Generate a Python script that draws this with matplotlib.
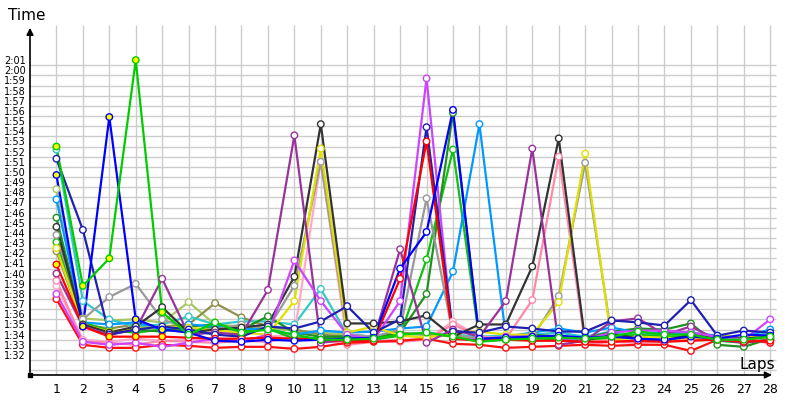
"""
lap times chart, one line per driver
"""

import matplotlib
matplotlib.use("Agg")
import matplotlib.pyplot as plt

laps = list(range(1, 29))

# lap times in seconds
red_a = [100.9, 94.8, 93.8, 93.8, 93.8, 93.7, 93.6, 93.6, 93.7, 93.6, 93.5, 93.4, 93.4, 99.5,
         113.0, 93.6, 93.4, 93.5, 93.4, 93.4, 93.3, 93.3, 93.4, 93.3, 93.4, 93.5, 93.3, 93.4]
red_b = [97.5, 93.0, 92.7, 92.7, 93.0, 92.9, 92.7, 92.8, 92.8, 92.6, 92.8, 93.2, 93.3, 93.4,
         93.6, 93.1, 93.0, 92.7, 92.8, 92.9, 93.0, 92.9, 93.0, 93.0, 92.4, 93.5, 93.6, 93.2]
blue = [109.7, 94.8, 115.4, 95.5, 94.5, 94.2, 93.4, 93.3, 93.5, 93.4, 93.5, 93.6, 93.7, 100.5,
        104.1, 116.1, 93.6, 93.7, 93.8, 93.9, 93.7, 93.8, 93.6, 93.5, 93.8, 93.6, 94.0, 93.9]
navy = [111.3, 104.3, 94.0, 94.5, 94.8, 94.5, 94.0, 93.8, 94.8, 94.6, 95.3, 96.8, 94.2, 95.5,
        114.4, 94.3, 94.2, 94.8, 94.6, 94.3, 94.3, 95.4, 95.2, 94.9, 97.4, 93.9, 94.4, 94.2]
green_a = [112.5, 98.8, 101.5, 121.0, 96.2, 94.0, 95.2, 94.2, 94.5, 94.0, 93.5, 93.5, 93.6, 94.0,
           94.2, 93.8, 93.3, 93.5, 93.6, 93.7, 93.6, 93.8, 94.3, 94.0, 94.0, 93.5, 93.5, 93.8]
dark_green = [105.5, 95.0, 94.3, 94.5, 94.3, 94.8, 95.0, 94.5, 95.8, 94.2, 93.8, 93.8, 93.7, 94.2,
              98.0, 115.8, 93.5, 93.8, 94.0, 93.8, 93.6, 94.3, 94.6, 94.5, 95.1, 93.0, 92.8, 93.6]
green_b = [103.1, 95.2, 94.4, 94.2, 94.5, 94.3, 94.8, 94.3, 94.6, 93.6, 93.7, 93.8, 93.5, 93.9,
           101.4, 112.2, 93.5, 93.6, 93.7, 93.5, 93.5, 93.7, 94.0, 93.8, 93.8, 93.4, 93.2, 93.5]
yellow = [102.5, 95.0, 94.3, 94.6, 94.8, 94.7, 94.4, 94.2, 94.0, 97.3, 112.3, 94.2, 94.8, 93.9,
          93.7, 94.2, 94.3, 94.0, 94.0, 97.2, 111.8, 93.4, 93.8, 93.7, 93.6, 93.8, 93.9, 93.6]
gray = [103.8, 95.5, 97.7, 99.0, 95.5, 94.6, 94.5, 95.0, 94.6, 98.8, 111.0, 94.0, 93.8, 94.5,
        107.4, 94.0, 93.6, 93.8, 93.7, 97.8, 110.9, 93.8, 93.7, 93.5, 93.8, 93.8, 93.6, 93.7]
dark_gray = [104.6, 95.0, 94.2, 94.8, 96.7, 94.2, 94.5, 94.7, 95.0, 99.7, 114.7, 95.1, 95.1, 95.3,
             95.9, 93.8, 95.0, 95.0, 100.7, 113.3, 93.4, 94.1, 93.6, 93.4, 94.0, 93.7, 93.6, 93.8]
purple = [100.0, 94.8, 94.0, 94.5, 99.5, 94.0, 94.2, 94.0, 98.4, 113.6, 93.2, 93.5, 93.5, 102.4,
          93.2, 94.5, 93.8, 97.3, 112.3, 93.0, 93.4, 95.3, 95.6, 94.0, 94.8, 93.5, 93.2, 93.5]
violet = [98.0, 93.3, 93.0, 93.2, 92.8, 93.2, 93.6, 93.3, 94.0, 101.3, 97.3, 94.0, 93.5, 97.3,
          119.2, 93.6, 93.5, 93.8, 93.8, 93.6, 93.5, 94.2, 94.4, 94.4, 94.2, 93.8, 93.5, 95.5]
pink = [99.3, 93.3, 93.2, 93.0, 93.4, 93.3, 93.2, 93.4, 93.3, 93.8, 93.5, 93.0, 93.3, 93.3,
        93.5, 95.0, 93.8, 93.6, 97.4, 111.5, 93.0, 93.3, 93.2, 93.3, 93.6, 93.5, 93.4, 93.2]
light_pink = [98.8, 93.5, 93.3, 93.6, 93.4, 93.5, 93.6, 93.5, 93.8, 94.0, 111.0, 93.2, 93.4, 93.5,
              93.5, 95.3, 93.8, 93.6, 93.5, 93.6, 93.4, 93.5, 93.2, 93.4, 93.6, 93.5, 93.6, 93.3]
cyan = [112.2, 97.3, 95.5, 94.8, 95.0, 95.8, 95.0, 95.3, 95.3, 95.0, 98.5, 94.0, 93.8, 94.0,
        94.2, 94.0, 93.8, 93.9, 94.0, 94.2, 93.8, 94.3, 93.8, 94.2, 94.0, 93.8, 93.7, 94.2]
sky_blue = [107.3, 95.2, 95.0, 95.2, 94.5, 95.0, 94.8, 94.6, 94.5, 94.0, 94.4, 94.2, 94.3, 94.6,
            94.8, 100.2, 114.7, 93.8, 94.2, 94.6, 94.2, 94.7, 94.2, 94.2, 94.2, 93.9, 93.8, 94.5]
olive = [102.2, 95.0, 94.6, 95.0, 94.8, 95.0, 97.1, 95.7, 94.8, 94.5, 94.0, 93.8, 93.7, 94.2,
         94.0, 93.9, 93.8, 93.7, 93.6, 93.8, 93.6, 93.9, 93.8, 93.6, 93.7, 93.8, 93.7, 93.6]
light_green = [108.3, 95.6, 95.4, 95.5, 95.2, 97.2, 95.0, 94.8, 94.6, 94.4, 94.2, 94.0, 93.8, 94.0,
               94.0, 93.8, 93.7, 93.6, 93.7, 93.6, 93.5, 93.7, 93.6, 93.5, 93.6, 93.7, 93.6, 93.7]

# (values, colour, yellow markers on first laps?)
series = [
    (light_green, "#a8c864", False),
    (olive, "#8f8f4f", False),
    (cyan, "#33c8c8", False),
    (light_pink, "#ffa8c8", False),
    (pink, "#ff88a8", False),
    (red_b, "#ff1010", False),
    (green_b, "#10c010", False),
    (dark_green, "#209020", False),
    (sky_blue, "#0099ff", False),
    (gray, "#999999", False),
    (yellow, "#e0e000", False),
    (dark_gray, "#333333", False),
    (purple, "#993399", False),
    (violet, "#cc44ff", False),
    (navy, "#2020b0", False),
    (red_a, "#ff0000", True),
    (blue, "#0000ff", True),
    (green_a, "#00cc00", True),
]

y_ticks = list(range(92, 122))
y_labels = [f"{t // 60}:{t % 60:02d}" for t in y_ticks]

fig = plt.figure(figsize=(8, 4), dpi=100)
ax = fig.add_axes([30 / 800, 25 / 400, 750 / 800, 350 / 400])
ax.set_xlim(0, 28.37)
ax.set_ylim(90.03, 124.45)

# grid
ax.hlines([v + 0.5 for v in range(90, 121)], 0, 28.22, color="#cccccc", lw=1, zorder=0)
ax.vlines(laps, 90.03, 124.45, color="#cccccc", lw=1, zorder=0)

for vals, col, yel in series:
    ax.plot(laps, vals, color=col, lw=1.6, zorder=2)
    faces = ["#ffff00" if (yel and i < 5) else "white" for i in range(len(vals))]
    ax.scatter(laps, vals, s=22, facecolors=faces, edgecolors=col, linewidths=1, zorder=3)

for s in ax.spines.values():
    s.set_visible(False)

# axes with arrows
ax.annotate("", xy=(0, 1.0), xytext=(0, 0), xycoords="axes fraction",
            arrowprops=dict(arrowstyle="-|>", color="black", lw=1.2, mutation_scale=10),
            annotation_clip=False)
ax.annotate("", xy=(0.993, 0), xytext=(0, 0), xycoords="axes fraction",
            arrowprops=dict(arrowstyle="-|>", color="black", lw=1.2, mutation_scale=10),
            annotation_clip=False)
ax.plot([0], [90.03], marker="s", ms=3, color="black", clip_on=False, zorder=5)

ax.set_yticks(y_ticks)
ax.set_yticklabels(y_labels, fontsize=7, ha="left")
ax.tick_params(axis="y", length=0, pad=18.7)
ax.set_xticks(laps)
ax.set_xticklabels([str(l) for l in laps], fontsize=9)
ax.tick_params(axis="x", length=0, pad=6)

fig.text(8 / 800, 1 - 16 / 400, "Time", fontsize=11, va="center", ha="left")
fig.text(775 / 800, 1 - 364 / 400, "Laps", fontsize=11, va="center", ha="right")

fig.savefig("out.png", dpi=100)
